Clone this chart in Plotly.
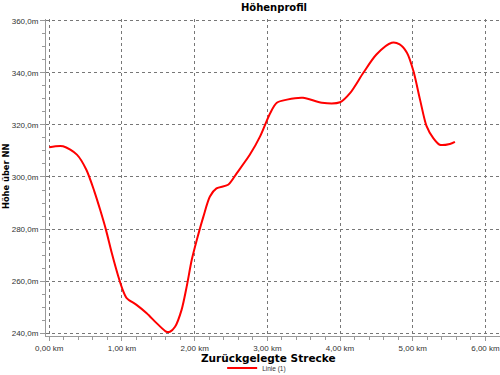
import plotly.graph_objects as go

distance_km = [0.0, 0.19, 0.38, 0.51, 0.62, 0.70, 0.78, 0.86, 0.95, 1.01, 1.065, 1.20, 1.34,
               1.48, 1.61, 1.66, 1.73, 1.82, 1.89, 1.96, 2.03, 2.12, 2.21, 2.30, 2.46, 2.58,
               2.76, 2.90, 3.04, 3.13, 3.27, 3.49, 3.75, 4.00, 4.14, 4.32, 4.50, 4.71, 4.82,
               4.92, 5.01, 5.10, 5.19, 5.28, 5.37, 5.51, 5.58]
elevation_m = [311.4, 311.8, 308.6, 302.8, 294.5, 287.4, 279.7, 270.8, 261.8, 256.7, 253.5,
               250.9, 247.7, 243.8, 240.6, 240.6, 242.5, 249.0, 257.9, 268.2, 275.9, 284.8,
               292.5, 295.6, 297.0, 301.5, 308.6, 315.6, 324.6, 328.5, 329.7, 330.4, 328.5,
               328.7, 332.3, 340.0, 347.0, 351.5, 350.9, 347.7, 340.6, 329.7, 319.5, 315.0,
               312.4, 312.7, 313.5]

x_tickvals = [0, 1, 2, 3, 4, 5, 6]
x_ticktext = ["0,00 km", "1,00 km", "2,00 km", "3,00 km", "4,00 km", "5,00 km", "6,00 km"]
y_tickvals = [240, 260, 280, 300, 320, 340, 360]
y_ticktext = ["240,0m", "260,0m", "280,0m", "300,0m", "320,0m", "340,0m", "360,0m"]

TICKFONT = "Liberation Sans"
BOLDFONT = "DejaVu Sans"

fig = go.Figure()
fig.add_trace(go.Scatter(
    x=distance_km, y=elevation_m, mode="lines", name="Linie (1)",
    line=dict(color="#ff0000", width=2, shape="spline", smoothing=0.8),
))

fig.update_layout(
    width=500, height=375,
    margin=dict(l=46, r=0, t=19, b=39, autoexpand=False),
    paper_bgcolor="white", plot_bgcolor="white",
    font=dict(family=TICKFONT, size=8, color="#333333"),
    title=dict(text="<b>Höhenprofil</b>", x=0.548, xref="container", xanchor="center",
               y=0.979, yref="container", yanchor="middle",
               font=dict(family=BOLDFONT, size=10, color="black")),
    showlegend=True,
    legend=dict(orientation="h", x=0.388, xanchor="left", y=-0.101, yanchor="middle",
                font=dict(family=TICKFONT, size=6.5, color="#333333"),
                bgcolor="rgba(0,0,0,0)"),
    annotations=[
        dict(text="<b>Zurückgelegte Strecke</b>", xref="paper", yref="paper",
             x=0.489, y=-0.0685, xanchor="center", yanchor="middle", showarrow=False,
             font=dict(family=BOLDFONT, size=10.5, color="black")),
        dict(text="<b>Höhe über NN</b>", xref="paper", yref="paper",
             x=-0.088, y=0.5016, xanchor="center", yanchor="middle", showarrow=False,
             textangle=-90, font=dict(family=BOLDFONT, size=8.3, color="black")),
    ],
)

fig.update_xaxes(
    range=[-0.045, 6.2], tickvals=x_tickvals, ticktext=x_ticktext, automargin=False,
    ticklabeloverflow="allow",
    showgrid=True, gridcolor="#777777", griddash="dot", gridwidth=1,
    showline=True, linecolor="#999999", linewidth=1,
    ticks="outside", ticklen=4, tickcolor="#999999",
    minor=dict(dtick=0.2, ticks="outside", ticklen=3, tickcolor="#999999", showgrid=False),
    zeroline=False,
)
fig.update_yaxes(
    range=[238.96, 360.65], tickvals=y_tickvals, ticktext=y_ticktext, automargin=False,
    ticklabeloverflow="allow",
    showgrid=True, gridcolor="#777777", griddash="dot", gridwidth=1,
    showline=True, linecolor="#999999", linewidth=1,
    ticks="outside", ticklen=5, tickcolor="#999999",
    minor=dict(dtick=5, ticks="outside", ticklen=3, tickcolor="#999999", showgrid=False),
    zeroline=False,
)

fig.write_html("out.html", config={"displayModeBar": False},
               post_script="document.body.style.margin='0px';")
